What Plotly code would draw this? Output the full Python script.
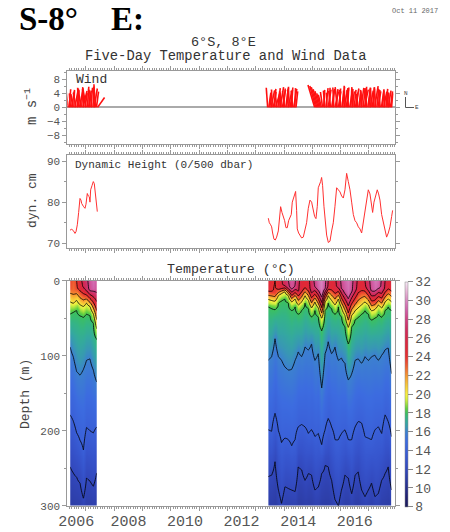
import numpy as np
import plotly.graph_objects as go

# ---------------- data ----------------
# Wind sticks (5-day-ish sampling), u = eastward, v = northward (m/s)
wind_a_start, wind_b_start, wind_c_start, wind_step = 2006.37, 2013.42, 2015.08, 0.04
wind_a_v = [4.8, 5.2, 4.0, 4.6, 3.8, 5.0, 5.4, 4.2, 4.9, 5.6, 4.4, 5.1, 5.8, 4.7, 5.3, 4.1,
            5.5, 5.9, 4.8, 5.2, 5.6, 4.9, 6.0, 5.4, 6.6, 4.5, 2.8]
wind_a_u = [-0.6, 0.4, -0.3, 0.8, -0.5, 0.2, 1.0, -0.8, 0.5, -0.2, 0.9, -0.6, 0.3, 1.2, -0.4, 0.6,
            -1.0, 0.4, 0.8, -0.3, 0.5, -0.7, 0.2, 0.9, -0.4, 0.6, 2.0]
wind_b_v = [5.6, 4.2, 3.6, 4.8, 5.1, 4.4, 5.3, 4.0, 4.9, 5.5, 4.6, 5.8, 4.3, 5.0, 5.4, 4.7,
            5.9, 5.2, 4.5, 5.6, 5.0, 5.7, 4.8, 5.3, 5.5, 4.6]
wind_b_u = [-0.4, 0.6, 0.3, 1.0, -0.2, 0.8, 0.4, 1.2, -0.5, 0.7, 0.2, 1.0, -0.3, 0.9, 0.5, -0.6,
            0.8, 0.3, 1.1, -0.2, 0.6, 0.4, -0.4, 0.9, 0.2, 0.5]
wind_c_v = [6.4, 6.1, 5.8, 5.2, 4.6, 4.0, 3.6, 4.4, 5.0, 4.8,
            5.5, 4.2, 5.1, 5.6, 4.7, 5.3, 4.9, 5.7, 4.5, 5.2,
            5.8, 4.6, 5.4, 5.0, 5.9, 4.8, 5.5, 6.2, 5.1, 5.7,
            4.9, 5.3, 5.8, 4.6, 5.2, 5.0, 5.4, 4.2, 3.9, 4.3,
            5.0, 5.6, 4.7, 5.4, 5.1, 5.9, 5.5, 5.2, 5.7, 4.8,
            5.5, 5.8, 5.3, 6.1, 5.6, 5.2, 4.6, 5.0, 5.4, 4.7,
            5.2, 4.5, 4.9, 5.3, 4.4, 4.8, 4.2, 4.6, 4.0]
wind_c_u = [-1.9, -1.7, -1.6, -1.4, -1.2, -1.0, -0.9, -0.6, 0.3, -0.4,
            0.6, -0.2, 0.8, 0.2, -0.5, 0.9, 0.4, -0.3, 1.0, 0.5,
            -0.6, 0.7, 0.3, -0.4, 0.8, 0.2, 1.1, -0.3, 0.6, 0.4,
            -0.5, 0.9, 0.3, 0.7, -0.2, 0.5, 1.0, 0.4, -0.3, 0.6,
            0.2, 0.8, -0.4, 0.5, 1.1, 0.3, -0.5, 0.7, 0.4, 0.9,
            -0.2, 0.6, 0.3, 1.0, -0.4, 0.5, 0.8, 0.2, -0.6, 0.7,
            0.4, 0.9, -0.3, 0.5, 0.2, 0.8, -0.2, 0.6, 0.3]

# Dynamic height (dyn. cm)
dh1_t = [2006.435, 2006.494, 2006.552, 2006.611, 2006.647, 2006.694, 2006.741, 2006.788,
         2006.823, 2006.847, 2006.906, 2006.965, 2007.000, 2007.047, 2007.082, 2007.118,
         2007.141, 2007.165, 2007.212, 2007.259, 2007.294, 2007.318, 2007.353, 2007.400]
dh1_v = [73.2, 73.4, 73.1, 72.4, 72.8, 74.5, 77.5, 80.9, 80.5, 79.7, 79.0, 78.5, 79.5, 82.1,
         81.5, 81.3, 80.0, 83.0, 84.0, 85.0, 84.5, 83.0, 80.0, 77.7]
dh2_t = [2013.443, 2013.478, 2013.525, 2013.561, 2013.596, 2013.643, 2013.690, 2013.737,
         2013.796, 2013.832, 2013.879, 2013.926, 2013.973, 2014.020, 2014.067, 2014.114,
         2014.161, 2014.208, 2014.255, 2014.290, 2014.326, 2014.373, 2014.408, 2014.443,
         2014.467, 2014.514, 2014.562, 2014.620, 2014.679, 2014.738, 2014.797, 2014.856,
         2014.915, 2014.974, 2015.033, 2015.080, 2015.127, 2015.174, 2015.209, 2015.245,
         2015.292, 2015.327, 2015.362, 2015.409, 2015.456, 2015.504, 2015.563, 2015.622,
         2015.681, 2015.740, 2015.799, 2015.858, 2015.917, 2015.976, 2016.034, 2016.093,
         2016.152, 2016.211, 2016.270, 2016.329, 2016.388, 2016.447, 2016.506, 2016.564,
         2016.623, 2016.682, 2016.741, 2016.800, 2016.859, 2016.918, 2016.977, 2017.035,
         2017.094, 2017.130, 2017.177, 2017.247, 2017.294, 2017.341, 2017.389, 2017.448,
         2017.506, 2017.565, 2017.624, 2017.683, 2017.742, 2017.801, 2017.836]
dh2_v = [76.1, 75.0, 74.5, 74.0, 72.5, 71.0, 70.8, 71.5, 73.0, 76.0, 78.9, 77.5, 76.5, 75.5,
         73.8, 73.8, 75.5, 76.5, 77.0, 80.0, 81.0, 82.0, 82.6, 78.0, 73.5, 72.5, 71.8, 71.3,
         71.5, 73.0, 75.0, 78.5, 80.5, 80.0, 77.5, 76.5, 76.0, 79.0, 83.5, 84.0, 85.0, 86.0,
         84.0, 79.0, 75.0, 72.0, 70.2, 70.5, 73.0, 75.0, 79.0, 83.5, 83.0, 82.5, 81.5, 81.0,
         83.0, 87.0, 85.0, 83.0, 80.0, 77.0, 75.5, 75.0, 74.0, 73.5, 72.5, 75.0, 78.0, 81.0,
         83.0, 82.0, 79.0, 77.5, 80.0, 82.0, 83.0, 82.0, 80.5, 77.0, 75.0, 73.0, 71.5, 72.5,
         74.0, 76.5, 78.0]

# Temperature: surface temp, mixed-layer depth and isotherm depths (m)
t1_time = [2006.44, 2006.55, 2006.67, 2006.79, 2006.91, 2007.02, 2007.14, 2007.26, 2007.38]
t1_sst = [23.5, 23.0, 24.0, 25.5, 26.5, 27.5, 28.8, 29.4, 28.6]
t1_mld = [10, 14, 10, 8, 8, 10, 12, 10, 14]
t1_d20 = [28, 30, 26, 32, 34, 30, 34, 44, 64]
t1_d18 = [44, 42, 40, 46, 48, 44, 46, 56, 78]
t1_d16 = [88, 101, 121, 126, 118, 106, 104, 119, 135]
t1_d14 = [179, 187, 203, 213, 226, 196, 200, 203, 195]
t1_d12 = [248, 256, 262, 270, 290, 263, 267, 274, 256]

t2_time = [2013.44, 2013.56, 2013.68, 2013.80, 2013.91, 2014.03, 2014.15, 2014.27, 2014.39, 2014.50,
           2014.62, 2014.74, 2014.86, 2014.97, 2015.09, 2015.21, 2015.33, 2015.45, 2015.56, 2015.68,
           2015.80, 2015.92, 2016.03, 2016.15, 2016.27, 2016.39, 2016.51, 2016.62, 2016.74, 2016.86,
           2016.98, 2017.09, 2017.21, 2017.33, 2017.45, 2017.57, 2017.68, 2017.80]
t2_sst = [25.0, 24.5, 24.0, 25.0, 25.8, 27.0, 28.0, 28.8, 28.2, 26.5,
          25.2, 24.8, 25.5, 27.0, 28.4, 29.4, 30.0, 28.5, 26.0, 25.0,
          25.6, 27.0, 28.4, 29.2, 29.6, 28.6, 27.0, 25.5, 25.0, 26.0,
          27.4, 28.8, 29.6, 29.2, 27.8, 26.0, 25.2, 25.4]
t2_mld = [12, 14, 16, 10, 8, 6, 8, 10, 8, 14, 12, 8, 10, 14, 8, 10, 16, 10, 8, 10,
          12, 8, 10, 14, 18, 14, 12, 10, 10, 8, 10, 12, 10, 8, 12, 10, 8, 10]
t2_d20 = [25, 26, 27, 20, 17, 15, 20, 28, 24, 32, 28, 20, 26, 36, 28, 36, 50, 28, 20, 26,
          32, 24, 36, 46, 62, 46, 40, 36, 32, 28, 32, 40, 38, 32, 36, 28, 24, 28]
t2_d18 = [35, 37, 38, 30, 26, 24, 30, 39, 35, 44, 39, 30, 37, 48, 39, 48, 66, 39, 30, 37,
          44, 35, 48, 61, 84, 61, 52, 48, 44, 39, 44, 52, 50, 44, 48, 39, 35, 39]
t2_d16 = [106, 101, 77, 101, 106, 115, 119, 118, 106, 95, 101, 88, 92, 84, 106, 97, 143, 97, 81, 97,
          88, 106, 103, 110, 132, 124, 106, 104, 110, 101, 106, 101, 99, 106, 99, 92, 90, 124]
t2_d14 = [199, 201, 177, 200, 216, 210, 212, 220, 212, 195, 192, 195, 204, 199, 208, 204, 219, 199,
          184, 195, 212, 212, 204, 199, 212, 212, 195, 188, 190, 208, 210, 212, 199, 195, 204, 179,
          188, 208]
t2_d12 = [261, 259, 241, 279, 297, 275, 277, 279, 281, 248, 252, 266, 257, 259, 279, 275, 257, 246,
          248, 266, 292, 301, 279, 259, 263, 284, 259, 255, 279, 288, 279, 270, 288, 284, 266, 257,
          248, 279]
d10_depth = 360  # 10 degC isotherm lies below the plotted range

cbar_ticks = list(range(8, 33, 2))
year_labels = ["2006", "2008", "2010", "2012", "2014", "2016"]
year_label_pos = [2006.66, 2008.5, 2010.5, 2012.5, 2014.5, 2016.5]

# ---------------- layout geometry ----------------
W, H = 450, 532
XL, XRt = 67.3, 395.0
WIND_T, WIND_B = 70.7, 144.0
DH_T, DH_B = 155.0, 247.7
T_T, T_B = 280.7, 505.7
XRANGE = [2006.34, 2017.92]
WIND_R = 10.5
DH_RANGE = [68.93, 91.46]


def px(x):
    return x / W


def py(y):
    return 1 - y / H


MONO = "Liberation Mono"
GRAY = "#999999"
TXT = "#555555"

fig = go.Figure()

# ---- wind sticks ----
k = ((WIND_B - WIND_T) / (2 * WIND_R)) / ((XRt - XL) / (XRANGE[1] - XRANGE[0]))
sx, sy = [], []
for start, us, vs in [(wind_a_start, wind_a_u, wind_a_v),
                      (wind_b_start, wind_b_u, wind_b_v),
                      (wind_c_start, wind_c_u, wind_c_v)]:
    times = start + wind_step * np.arange(len(vs))
    for t, u, v in zip(times, us, vs):
        sx += [t, t + u * k, None]
        sy += [0, v, None]
fig.add_trace(go.Scatter(x=sx, y=sy, mode="lines", line=dict(color="#ff1010", width=1.6),
                         xaxis="x", yaxis="y", showlegend=False, hoverinfo="skip"))

# ---- dynamic height ----
for tt, vv in [(dh1_t, dh1_v), (dh2_t, dh2_v)]:
    fig.add_trace(go.Scatter(x=tt, y=vv, mode="lines", line=dict(color="#ff3030", width=1),
                             xaxis="x2", yaxis="y2", showlegend=False, hoverinfo="skip"))

# ---- temperature ----
DEPTH = np.arange(0, 302.5, 2.5)


def build_field(sst, mld, d20, d18, d16, d14, d12):
    cols = []
    for i in range(len(sst)):
        depths = [0, mld[i], d20[i], d18[i], d16[i], d14[i], d12[i], d10_depth]
        temps = [sst[i], sst[i] - 0.3, 20, 18, 16, 14, 12, 10]
        cols.append(np.interp(DEPTH, depths, temps))
    return np.array(cols).T


for tt, args in [(t1_time, (t1_sst, t1_mld, t1_d20, t1_d18, t1_d16, t1_d14, t1_d12)),
                 (t2_time, (t2_sst, t2_mld, t2_d20, t2_d18, t2_d16, t2_d14, t2_d12))]:
    z = build_field(*args)
    fig.add_trace(go.Contour(x=tt, y=DEPTH, z=z, coloraxis="coloraxis",
                             contours=dict(start=10, end=30, size=2, coloring="heatmap", showlines=True),
                             line=dict(color="black", width=0.8, smoothing=1),
                             xaxis="x3", yaxis="y3", showlegend=False, hoverinfo="skip"))

# dummy trace to hold the year-label axis
fig.add_trace(go.Scatter(x=[2010], y=[150], mode="markers", marker=dict(opacity=0),
                         xaxis="x4", yaxis="y3", showlegend=False, hoverinfo="skip"))

colorscale = [
    [0 / 24, "#1b1b5a"], [1 / 24, "#202070"], [2 / 24, "#262e8a"], [3 / 24, "#2c3ca4"],
    [4 / 24, "#3248bc"], [5 / 24, "#3654cc"], [6 / 24, "#3a60d8"], [7 / 24, "#3c6ce0"],
    [8 / 24, "#3c80d0"], [8.5 / 24, "#3898b4"], [9 / 24, "#34a8a0"], [9.5 / 24, "#34b488"],
    [10 / 24, "#3cc060"], [10.5 / 24, "#60d040"], [11 / 24, "#a0e040"], [11.5 / 24, "#d8f040"],
    [12 / 24, "#f8f040"], [13 / 24, "#f8c838"], [14 / 24, "#f89830"], [15 / 24, "#f06030"],
    [16 / 24, "#e83030"], [17 / 24, "#e02838"], [18 / 24, "#d82848"], [19 / 24, "#d02c60"],
    [20 / 24, "#d04080"], [21 / 24, "#d060a8"], [22 / 24, "#d888c0"], [23 / 24, "#e8b8d8"],
    [24 / 24, "#f4e8f4"],
]


def xaxis_common(dom_anchor):
    return dict(domain=[px(XL), px(XRt)], range=XRANGE, anchor=dom_anchor, showline=True,
                linecolor=GRAY, linewidth=1, mirror="ticks", ticks="outside", ticklen=4,
                tickcolor=GRAY, tickmode="linear", tick0=2006, dtick=1, showticklabels=False,
                showgrid=False, zeroline=False, automargin=False,
                minor=dict(ticks="outside", ticklen=2, tickcolor=GRAY, tick0=2006, dtick=1 / 12,
                           showgrid=False))


def yaxis_common(top, bot, rng, dtick, tick0, mdt):
    return dict(domain=[py(bot), py(top)], range=rng, showline=True, linecolor=GRAY, linewidth=1,
                mirror="ticks", ticks="outside", ticklen=4, tickcolor=GRAY, tickmode="linear",
                dtick=dtick, tick0=tick0, showgrid=False, zeroline=False, automargin=False,
                tickfont=dict(family=MONO, size=11, color=TXT),
                minor=dict(ticks="outside", ticklen=2, tickcolor=GRAY, dtick=mdt, tick0=tick0,
                           showgrid=False))


ya = yaxis_common(WIND_T, WIND_B, [-WIND_R, WIND_R], 4, 0, 2)
ya.update(zeroline=True, zerolinecolor="#aaaaaa", zerolinewidth=1.5)
ya2 = yaxis_common(DH_T, DH_B, DH_RANGE, 10, 70, 5)
ya3 = yaxis_common(T_T, T_B, [300, 0], 100, 0, 50)

fig.update_layout(
    width=W, height=H, autosize=False, margin=dict(l=0, r=0, t=0, b=0, autoexpand=False),
    paper_bgcolor="white", plot_bgcolor="white", showlegend=False,
    xaxis=xaxis_common("y"), xaxis2=xaxis_common("y2"), xaxis3=xaxis_common("y3"),
    xaxis4=dict(overlaying="x3", anchor="y3", side="bottom", range=XRANGE, tickmode="array",
                tickvals=year_label_pos, ticktext=year_labels, ticks="outside", ticklen=1,
                tickcolor="rgba(0,0,0,0)", showline=False, showgrid=False, zeroline=False,
                automargin=False, tickfont=dict(family=MONO, size=15, color=TXT)),
    yaxis=ya, yaxis2=ya2, yaxis3=ya3,
    coloraxis=dict(cmin=8, cmax=32, colorscale=colorscale,
                   colorbar=dict(x=px(405), xanchor="left", xpad=0, ypad=0, thickness=3,
                                 len=(506.7 - 281.7) / H, lenmode="fraction",
                                 y=py((506.7 + 281.7) / 2), yanchor="middle",
                                 tickmode="array", tickvals=cbar_ticks, ticks="outside", ticklen=5,
                                 tickcolor="#888", outlinewidth=0.5, outlinecolor="#888",
                                 tickfont=dict(family=MONO, size=13, color=TXT))),
)

ann = [
    dict(text="<b>S-8°\u00a0\u00a0\u00a0\u00a0E:</b>", x=px(17), y=py(19.5), xanchor="left", yanchor="middle",
         font=dict(family="Liberation Serif", size=33, color="black")),
    dict(text="Oct 11 2017", x=px(415), y=py(11), font=dict(family=MONO, size=7, color="#666")),
    dict(text="6°S, 8°E", x=px(223), y=py(42), font=dict(family=MONO, size=13.5, color="#333")),
    dict(text="Five-Day Temperature and Wind Data", x=px(226.5), y=py(57),
         font=dict(family=MONO, size=13.8, color="#333")),
    dict(text="Wind", x=px(74), y=py(79), xanchor="left", font=dict(family=MONO, size=13, color="#333")),
    dict(text="Dynamic Height (0/500 dbar)", x=px(73), y=py(165), xanchor="left",
         font=dict(family=MONO, size=11, color="#333")),
    dict(text="Temperature (°C)", x=px(231), y=py(269), font=dict(family=MONO, size=13.3, color="#333")),
    dict(text="m s<sup>−1</sup>", x=px(31), y=py(107), textangle=-90,
         font=dict(family=MONO, size=14, color="#444")),
    dict(text="dyn. cm", x=px(32), y=py(201), textangle=-90, font=dict(family=MONO, size=13, color="#444")),
    dict(text="Depth (m)", x=px(25), y=py(394), textangle=-90, font=dict(family=MONO, size=13, color="#444")),
    dict(text="N", x=px(405.5), y=py(93), font=dict(family=MONO, size=6, color="#444")),
    dict(text="E", x=px(417), y=py(107.5), font=dict(family=MONO, size=6, color="#444")),
]
for a in ann:
    a.setdefault("xanchor", "center")
    a.setdefault("yanchor", "middle")
    a.update(xref="paper", yref="paper", showarrow=False)
fig.update_layout(annotations=ann)

fig.update_layout(shapes=[
    dict(type="line", xref="paper", yref="paper", x0=px(405.5), x1=px(405.5), y0=py(107.5), y1=py(97),
         line=dict(color="#555", width=1)),
    dict(type="line", xref="paper", yref="paper", x0=px(405.5), x1=px(414), y0=py(107.5), y1=py(107.5),
         line=dict(color="#555", width=1)),
])

fig.write_html("out.html")
